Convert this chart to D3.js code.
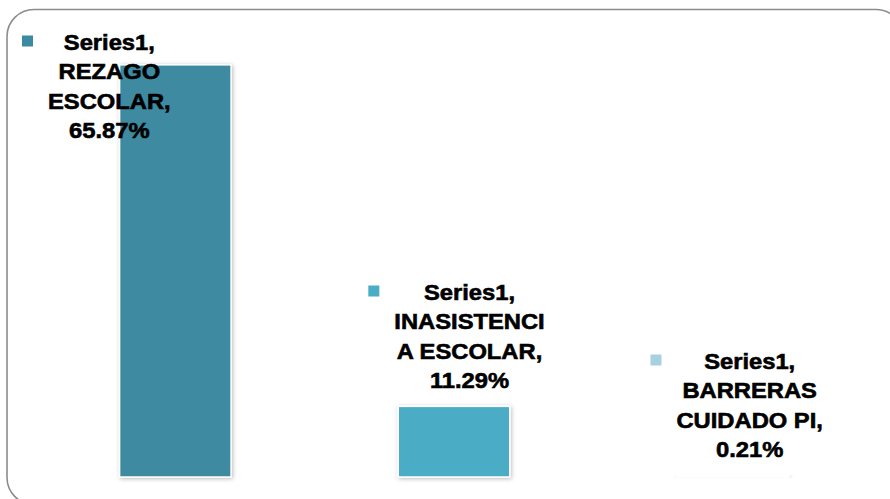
<!DOCTYPE html>
<html>
<head>
<meta charset="utf-8">
<script src="https://cdn.jsdelivr.net/npm/d3@7"></script>
<style>
  html, body { margin: 0; padding: 0; background: #ffffff; }
  svg { display: block; }
</style>
</head>
<body>
<svg id="chart" width="890" height="499"></svg>
<script>
// Chart data
const seriesName = "Series1";
const categories = ["REZAGO ESCOLAR", "INASISTENCIA ESCOLAR", "BARRERAS CUIDADO PI"];
const values = [65.87, 11.29, 0.21];
// Category text as it wraps inside each data label
const categoryLines = [["REZAGO", "ESCOLAR,"], ["INASISTENCI", "A ESCOLAR,"], ["BARRERAS", "CUIDADO PI,"]];
const colors = ["#3C8AA1", "#4BACC6", "#A7D1E0"];

const W = 890, H = 499;
const svg = d3.select("#chart");

// Drop shadow used by the bars
const defs = svg.append("defs");
const shadow = defs.append("filter").attr("id", "barShadow")
  .attr("x", "-20%").attr("y", "-20%").attr("width", "140%").attr("height", "140%");
shadow.append("feDropShadow")
  .attr("dx", 1).attr("dy", 1).attr("stdDeviation", 2)
  .attr("flood-color", "#000").attr("flood-opacity", 0.28);

// Chart area frame
svg.append("rect")
  .attr("x", 7).attr("y", 9.5)
  .attr("width", 896).attr("height", 495)
  .attr("rx", 27).attr("ry", 27)
  .attr("fill", "#ffffff")
  .attr("stroke", "#8c8c8c").attr("stroke-width", 1.6);

// Scales
const x = d3.scaleBand()
  .domain(categories)
  .range([36, 872])
  .paddingInner(0.6)
  .paddingOuter(0.3);

const y = d3.scaleLinear()
  .domain([0, 70])
  .range([477, 39]);

// Bars
svg.append("g").selectAll("rect")
  .data(categories)
  .join("rect")
  .attr("x", d => x(d))
  .attr("width", x.bandwidth())
  .attr("y", (d, i) => y(values[i]))
  .attr("height", (d, i) => y(0) - y(values[i]))
  .attr("fill", (d, i) => colors[i])
  .attr("stroke", "#ffffff")
  .attr("stroke-width", 1.5)
  .attr("filter", "url(#barShadow)");

// Data labels: series name, category, value, with a legend key
const labelLayout = [
  { dx: -66, y0: 50 },
  { dx: 15.5, y0: 300 },
  { dx: 17, y0: 369 }
];
const lineH = 29.5;
const fmt = d3.format(".2f");
const sx = 1.08;

categories.forEach((cat, i) => {
  const cx = x(cat) + x.bandwidth() / 2 + labelLayout[i].dx;
  const y0 = labelLayout[i].y0;
  const lines = [seriesName + ","].concat(categoryLines[i], [fmt(values[i]) + "%"]);

  const g = svg.append("g")
    .attr("transform", `translate(${cx},0) scale(${sx},1)`);

  const texts = g.selectAll("text")
    .data(lines)
    .join("text")
    .attr("x", 0)
    .attr("y", (d, k) => y0 + k * lineH)
    .attr("text-anchor", "middle")
    .attr("font-family", "'Liberation Sans', Arial, sans-serif")
    .attr("font-weight", "bold")
    .attr("font-size", 22)
    .attr("fill", "#000000")
    .attr("stroke", "#000000")
    .attr("stroke-width", 0.6)
    .text(d => d);

  let maxW = 0;
  texts.each(function () { maxW = Math.max(maxW, this.getComputedTextLength()); });
  const blockLeft = cx - (maxW * sx) / 2;

  svg.append("rect")
    .attr("x", blockLeft - 15 - 11)
    .attr("y", y0 - 14.5)
    .attr("width", 11).attr("height", 11)
    .attr("fill", colors[i]);
});
</script>
</body>
</html>
